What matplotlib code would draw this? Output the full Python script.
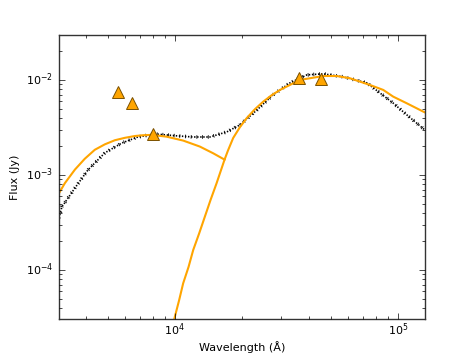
import matplotlib
matplotlib.use("Agg")
import matplotlib.pyplot as plt

plt.style.use("classic")

# Photometry (Angstrom, Jy)
obs_wave = [5546, 6410, 7963, 35960, 45200]
obs_flux = [7.48e-3, 5.73e-3, 2.70e-3, 1.05e-2, 1.02e-2]

# Stellar component (orange, left)
star_wave = [3020, 3213, 3565, 3945, 4375, 4853, 5383, 5970, 6622, 7212, 7869,
             9180, 10900, 12940, 14860, 16700]
star_flux = [6.4e-4, 8.2e-4, 1.14e-3, 1.48e-3, 1.84e-3, 2.10e-3, 2.32e-3, 2.46e-3, 2.57e-3, 2.62e-3, 2.64e-3,
             2.53e-3, 2.30e-3, 1.99e-3, 1.69e-3, 1.45e-3]

# Dust component (orange, rising)
dust_wave = [9800, 10000, 10454, 10894, 11521, 12081, 12853, 13627, 14454, 15380, 16700,
             17287, 18255, 19560, 20965, 22846, 24888, 27140, 29580, 32790, 36350,
             46240, 53110, 60920, 74870, 85940, 95260, 109400, 129900, 132200]
dust_flux = [2.6e-5, 3.23e-5, 4.83e-5, 7.24e-5, 1.08e-4, 1.62e-4, 2.43e-4, 3.64e-4, 5.46e-4, 8.18e-4, 1.45e-3,
             1.80e-3, 2.45e-3, 3.18e-3, 3.95e-3, 4.92e-3, 5.91e-3, 6.90e-3, 7.85e-3, 8.86e-3, 1.0e-2,
             1.10e-2, 1.10e-2, 1.042e-2, 8.86e-3, 7.85e-3, 6.67e-3, 5.69e-3, 4.64e-3, 4.55e-3]

# Model SED (black dotted)
model_wave = [3020, 3114, 3565, 4077, 4857, 5785, 6825, 8130, 10210, 12050, 14360, 17100,
              19550, 23320, 27490, 32790, 39060, 46140, 56640, 72600, 83000, 95000, 109700, 132100]
model_flux = [3.52e-4, 4.6e-4, 7.3e-4, 1.13e-3, 1.71e-3, 2.17e-3, 2.51e-3, 2.70e-3, 2.58e-3, 2.51e-3,
              2.51e-3, 2.84e-3, 3.36e-3, 4.83e-3, 6.95e-3, 9.3e-3, 1.13e-2, 1.16e-2, 1.08e-2, 9.3e-3,
              7.3e-3, 5.73e-3, 4.28e-3, 2.97e-3]

fig = plt.figure(figsize=(4.71, 3.56), dpi=100, facecolor="white")
ax = fig.add_axes([0.125, 0.104, 0.777, 0.798])

ax.plot(model_wave, model_flux, color="k", ls=(0, (1, 1.2)), lw=1.2)
ax.plot(model_wave, model_flux, color="k", ls=(0, (0.6, 3.5)), lw=2.6)
ax.plot(star_wave, star_flux, color="orange", lw=1.5)
ax.plot(dust_wave, dust_flux, color="orange", lw=1.5)
ax.plot(obs_wave, obs_flux, ls="none", marker="^", ms=8, mfc="orange",
        mec="#7a5000", mew=0.7)

ax.set_xscale("log")
ax.set_yscale("log")
ax.set_xlim(3020, 132000)
ax.set_ylim(3.05e-5, 2.98e-2)
ax.set_xlabel("Wavelength (\u00c5)", fontsize=8, labelpad=2)
ax.set_ylabel("Flux (Jy)", fontsize=8, labelpad=4)
ax.tick_params(axis="x", labelsize=8, pad=2)
ax.tick_params(axis="y", labelsize=8, pad=4)
for s in ax.spines.values():
    s.set_color("#333333")

fig.savefig("out.png", dpi=100, facecolor="white")
